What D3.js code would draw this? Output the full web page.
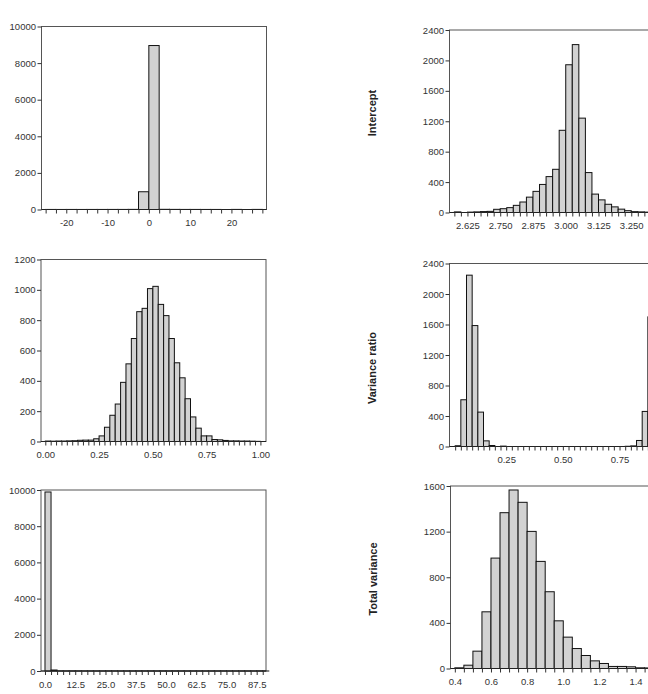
<!DOCTYPE html>
<html>
<head>
<meta charset="utf-8">
<script src="https://cdn.jsdelivr.net/npm/d3@7"></script>
<style>
  body { margin: 0; background: #fff; }
  svg { display: block; font-family: Arial, "Liberation Sans", sans-serif; }
</style>
</head>
<body>
<svg id="chart" width="648" height="694"></svg>
<script>
// Bin counts (first bin edge + bin width per panel)
const shiftStart = -25, shiftWidth = 2.5;
const shiftCounts = [3, 2, 3, 2, 3, 3, 4, 4, 6, 970, 8960, 10, 6, 4, 4, 3, 3, 0, 5, 0, 5];
const shiftLabels = [-20, -10, 0, 10, 20];

const interceptStart = 2.575, interceptWidth = 0.025;
const interceptCounts = [8, 0, 5, 8, 12, 15, 42, 50, 64, 94, 138, 202, 278, 369, 472, 568,
  1081, 1943, 2208, 1241, 525, 242, 166, 108, 74, 44, 24, 11, 8, 5];
const interceptLabels = [2.625, 2.75, 2.875, 3.0, 3.125, 3.25];

const propStart = 0, propWidth = 0.025;
const propCounts = [3, 2, 3, 3, 4, 5, 8, 9, 9, 18, 37, 94, 173, 247, 390, 512, 679, 856, 878, 1008,
  1023, 904, 830, 679, 519, 420, 282, 162, 88, 37, 37, 13, 11, 7, 4, 4, 3, 3, 2, 1];
const propLabels = [0, 0.25, 0.5, 0.75, 1.0];

const ratioStart = 0.025, ratioWidth = 0.025;
const ratioCounts = [10, 613, 2247, 1586, 451, 74, 13, 0, 5,
  0, 0, 0, 0, 0, 0, 0, 0, 0, 0, 0, 0, 0, 0, 0, 0, 0, 0, 0, 0,
  0, 3, 8, 79, 460, 1700];
const ratioLabels = [0.25, 0.5, 0.75];

const scaleStart = 0, scaleWidth = 2.5;
const scaleCounts = [9890, 55, 2, 1, 1, 1, 1, 1, 1, 1, 3, 3, 1, 1, 1, 3, 3, 3, 1, 3, 1, 3,
  1, 1, 1, 1, 1, 1, 1, 3, 1, 1, 1, 1, 1, 3, 1];
const scaleLabels = [0, 12.5, 25, 37.5, 50, 62.5, 75, 87.5];

const totalStart = 0.4, totalWidth = 0.05;
const totalCounts = [6, 29, 152, 497, 968, 1366, 1565, 1457, 1202, 939, 673, 418, 275, 175,
  114, 67, 44, 18, 18, 15, 6, 5];
const totalLabels = [0.4, 0.6, 0.8, 1.0, 1.2, 1.4];

const rowTitles = ['Intercept', 'Variance ratio', 'Total variance'];

// Layout of each panel
const W = 225;
const plain = v => String(v);
const panels = [
  { left: 41.5, top: 26.5, bottom: 209.5, domain: [-26, 28.5], yMax: 10000, yStep: 2000,
    start: shiftStart, width: shiftWidth, counts: shiftCounts, labels: shiftLabels, fmt: plain, tickEnd: 27.5 },
  { left: 449.5, top: 30, bottom: 212.5, domain: [2.5565, 3.415], yMax: 2400, yStep: 400,
    start: interceptStart, width: interceptWidth, counts: interceptCounts, labels: interceptLabels, fmt: d3.format('.3f'), tickEnd: 3.4 },
  { left: 41, top: 259.5, bottom: 441.5, domain: [-0.02, 1.026], yMax: 1200, yStep: 200,
    start: propStart, width: propWidth, counts: propCounts, labels: propLabels, fmt: d3.format('.2f'), tickEnd: 1.0 },
  { left: 449.5, top: 263.5, bottom: 446.5, domain: [0, 0.9925], yMax: 2400, yStep: 400,
    start: ratioStart, width: ratioWidth, counts: ratioCounts, labels: ratioLabels, fmt: d3.format('.2f'), tickEnd: 0.975 },
  { left: 41, top: 490, bottom: 671, domain: [-1.65, 91.35], yMax: 10000, yStep: 2000,
    start: scaleStart, width: scaleWidth, counts: scaleCounts, labels: scaleLabels, fmt: d3.format('.1f'), tickEnd: 90 },
  { left: 450.5, top: 486, bottom: 668.5, domain: [0.376, 1.621], yMax: 1600, yStep: 400,
    start: totalStart, width: totalWidth, counts: totalCounts, labels: totalLabels, fmt: d3.format('.1f'), tickEnd: 1.6 },
];

const titlePos = [[372.5, 113], [372.5, 368], [373, 579]];

const svg = d3.select('#chart');

panels.forEach((p) => {
  const x = d3.scaleLinear().domain(p.domain).range([p.left, p.left + W]);
  const y = d3.scaleLinear().domain([0, p.yMax]).range([p.bottom, p.top]);

  const g = svg.append('g');

  // frame
  g.append('rect')
    .attr('x', p.left).attr('y', p.top)
    .attr('width', W).attr('height', p.bottom - p.top)
    .attr('fill', 'none')
    .attr('stroke', '#555')
    .attr('stroke-width', 1);

  const bins = p.counts
    .map((c, i) => ({ x0: p.start + i * p.width, x1: p.start + (i + 1) * p.width, n: c }))
    .filter(d => d.n > 0);

  g.selectAll('rect.bar')
    .data(bins)
    .enter().append('rect')
      .attr('class', 'bar')
      .attr('x', d => x(d.x0))
      .attr('y', d => y(d.n))
      .attr('width', d => x(d.x1) - x(d.x0))
      .attr('height', d => y(0) - y(d.n))
      .attr('fill', '#d2d2d2')
      .attr('stroke', '#111')
      .attr('stroke-width', 1);

  // baseline
  g.append('line')
    .attr('x1', p.left).attr('x2', p.left + W)
    .attr('y1', p.bottom).attr('y2', p.bottom)
    .attr('stroke', '#222')
    .attr('stroke-width', 1.2);

  // y axis
  const yAxis = d3.axisLeft(y)
    .tickValues(d3.range(0, p.yMax + 1, p.yStep))
    .tickSize(4)
    .tickPadding(1.5)
    .tickFormat(plain);
  const ya = g.append('g')
    .attr('transform', `translate(${p.left},0)`)
    .call(yAxis);
  ya.select('.domain').remove();

  // x axis: a tick on every bin edge, labels on selected values
  const nEdges = Math.round((p.tickEnd - p.start) / p.width);
  const edges = d3.range(0, nEdges + 1).map(i => p.start + i * p.width);
  const isLabel = v => p.labels.some(l => Math.abs(l - v) < 1e-6);
  const xAxis = d3.axisBottom(x)
    .tickValues(edges)
    .tickSize(4)
    .tickPadding(6)
    .tickFormat(v => (isLabel(v) ? p.fmt(Math.round(v * 1000) / 1000) : ''));
  const xa = g.append('g')
    .attr('transform', `translate(0,${p.bottom})`)
    .call(xAxis);
  xa.select('.domain').remove();

  g.selectAll('.tick line').attr('stroke', '#333');
  g.selectAll('.tick text')
    .attr('fill', '#333')
    .style('font-size', '9.5px')
    .style('font-family', 'Arial, "Liberation Sans", sans-serif');
});

// row titles on the right column
svg.selectAll('text.row-title')
  .data(rowTitles)
  .enter().append('text')
    .attr('class', 'row-title')
    .attr('transform', (d, i) => `translate(${titlePos[i][0]},${titlePos[i][1]}) rotate(-90)`)
    .attr('text-anchor', 'middle')
    .attr('dy', '0.35em')
    .attr('fill', '#222')
    .style('font-size', '11px')
    .style('font-weight', 'bold')
    .text(d => d);
</script>
</body>
</html>
